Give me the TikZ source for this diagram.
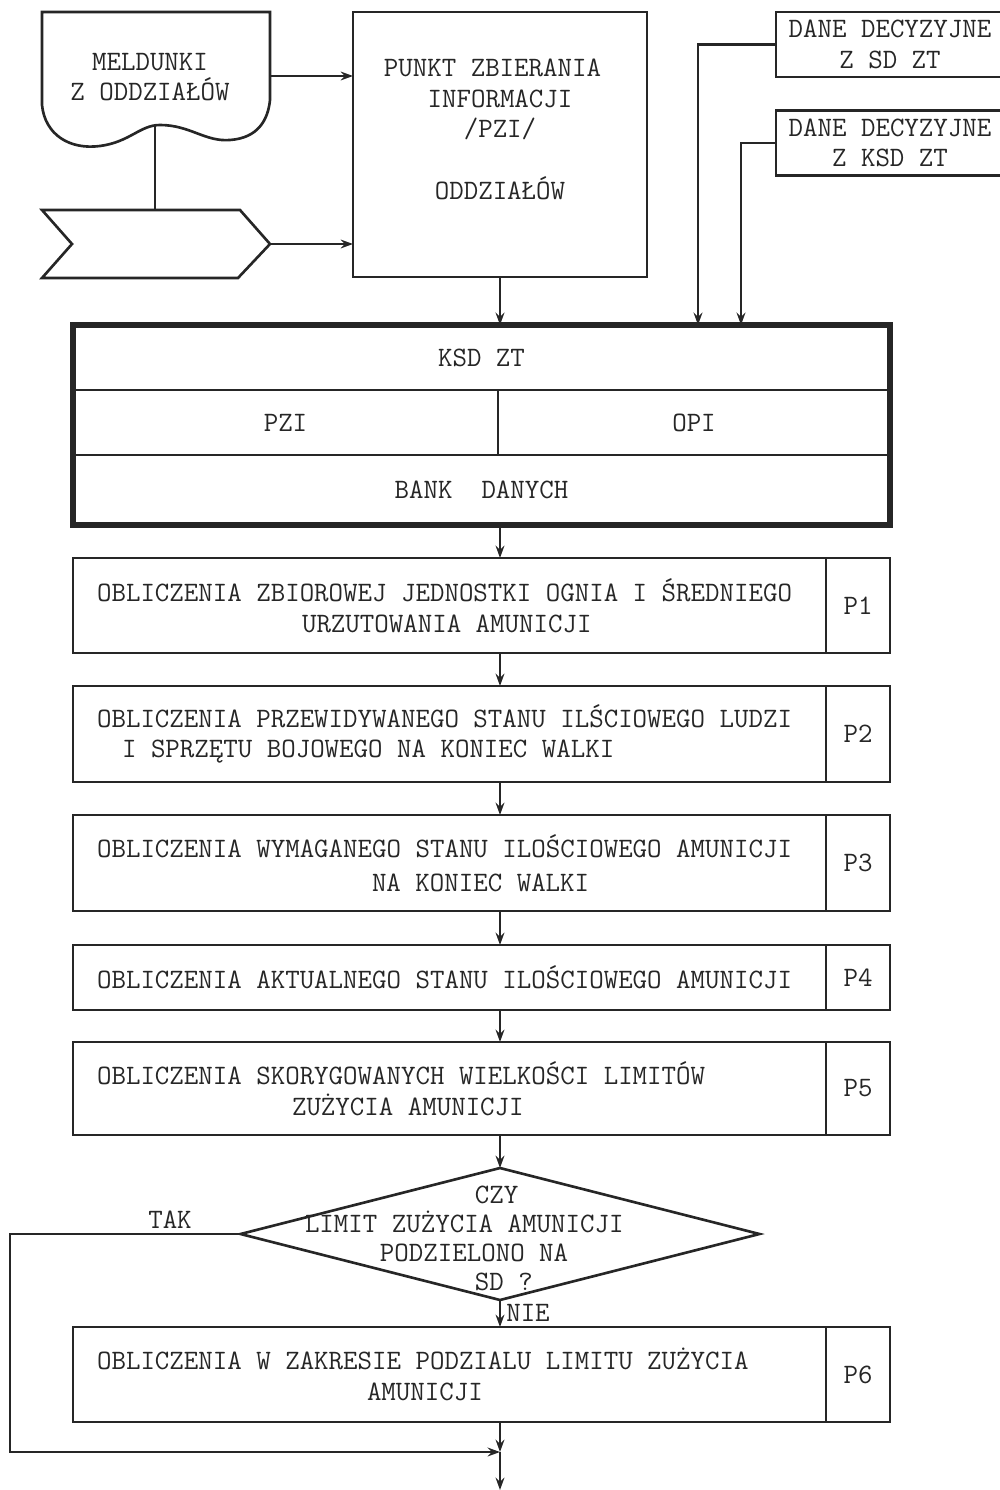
\documentclass[tikz,border=0pt]{standalone}
\usepackage{fontspec}
\usetikzlibrary{shapes.geometric,arrows.meta}
\newcommand\fixspace{\spaceskip=0pt \xspaceskip=0pt\relax}

\begin{document}
\begin{tikzpicture}[x=0.02cm, y=-0.02cm, line width=1.5pt, color=black!85,
  >={Stealth[length=7pt,width=5pt]},
  every node/.style={align=center, inner sep=0pt, outer sep=0pt,
    font=\ttfamily\fontsize{16}{17.5}\selectfont, execute at begin node={\fixspace}},
  box/.style={draw, minimum width=15.06cm, text width=14.1cm, align=left},
  pbox/.style={draw, minimum width=1.28cm}]
\useasboundingbox (0,0) rectangle (1000,1490);

% input side
\draw (42,12) -- (270,12) -- (270,100) .. controls (268,120) and (258,138) .. (230,140)
  .. controls (205,142) and (190,125) .. (160,125) .. controls (140,125) and (130,142) .. (100,146)
  .. controls (70,150) and (45,135) .. (42,105) -- cycle;
\node (mel) at (150,77) {MELDUNKI\\Z ODDZIAŁÓW};
\coordinate (melB) at (155,125);
\coordinate (melR) at (270,76);
\draw (42,210) -- (240,210) -- (270,244) -- (238,278) -- (42,278) -- (72,244) -- cycle;
\coordinate (chevT) at (155,210);
\coordinate (chevR) at (270,244);

\node[draw, minimum width=5.88cm, minimum height=5.3cm] (pzi) at (500,144.5)
  {PUNKT ZBIERANIA\hspace*{0.3cm}\\INFORMACJI\hspace*{0.3cm}\\/PZI/\hspace*{0.5cm}\\\mbox{}\\ODDZIAŁÓW\hspace*{0.4cm}\\\mbox{}};
\node[draw, minimum width=4.56cm, minimum height=1.3cm] (sd) at (890,44.5) {DANE DECYZYJNE\\Z SD ZT};
\node[draw, minimum width=4.56cm, minimum height=1.3cm] (ksdd) at (890,143) {DANE DECYZYJNE\\Z KSD ZT};

\draw (melB) -- (chevT);
\draw[->] (melR) -- (melR -| pzi.west);
\draw[->] (chevR) -- (chevR -| pzi.west);

% KSD ZT
\node[draw, minimum width=16.34cm, minimum height=1.3cm] (ksd) at (481.5,357.5) {KSD ZT};
\node[draw, minimum width=8.5cm, minimum height=1.3cm] (pzib) at (285.5,422.5) {PZI};
\node[draw, minimum width=7.84cm, minimum height=1.3cm] (opi) at (694,422.5) {OPI};
\node[draw, minimum width=16.34cm, minimum height=1.4cm] (bank) at (481.5,490) {BANK\ \ DANYCH};
\draw[line width=3pt] (ksd.north west) rectangle (bank.south east);

\coordinate (sdin) at (698,325);
\coordinate (ksdin) at (741,325);
\draw[->] (pzi.south) -- (pzi.south |- ksd.north);
\draw[->] (sd.west) -| (sdin);
\draw[->] (ksdd.west) -| (ksdin);

% calculations
\node[box, minimum height=1.9cm] (p1) at (449.5,605.5) {\mbox{OBLICZENIA ZBIOROWEJ JEDNOSTKI OGNIA I ŚREDNIEGO}\\\hspace*{4.1cm}URZUTOWANIA AMUNICJI};
\node[pbox, minimum height=1.9cm] (p1n) at (858,605.5) {P1};
\node[box, minimum height=1.92cm] (p2) at (449.5,734) {\mbox{OBLICZENIA PRZEWIDYWANEGO STANU ILŚCIOWEGO LUDZI}\\\hspace*{0.5cm}\mbox{I SPRZĘTU BOJOWEGO NA KONIEC WALKI}};
\node[pbox, minimum height=1.92cm] (p2n) at (858,734) {P2};
\node[box, minimum height=1.92cm] (p3) at (449.5,863) {\mbox{OBLICZENIA WYMAGANEGO STANU ILOŚCIOWEGO AMUNICJI}\\[2pt]\hspace*{5.5cm}NA KONIEC WALKI};
\node[pbox, minimum height=1.92cm] (p3n) at (858,863) {P3};
\node[box, minimum height=1.3cm] (p4) at (449.5,977.5) {\mbox{OBLICZENIA AKTUALNEGO STANU ILOŚCIOWEGO AMUNICJI}};
\node[pbox, minimum height=1.3cm] (p4n) at (858,977.5) {P4};
\node[box, minimum height=1.86cm] (p5) at (449.5,1088.5) {\mbox{OBLICZENIA SKORYGOWANYCH WIELKOŚCI LIMITÓW}\\\hspace*{3.9cm}ZUŻYCIA AMUNICJI};
\node[pbox, minimum height=1.86cm] (p5n) at (858,1088.5) {P5};

\draw[->] (bank.south -| pzi.south) -- (p1.north -| pzi.south);
\draw[->] (p1.south -| pzi.south) -- (p2.north -| pzi.south);
\draw[->] (p2.south -| pzi.south) -- (p3.north -| pzi.south);
\draw[->] (p3.south -| pzi.south) -- (p4.north -| pzi.south);
\draw[->] (p4.south -| pzi.south) -- (p5.north -| pzi.south);

% decision
\node[draw, diamond, minimum width=10.38cm, minimum height=2.64cm] (dec) at (500,1234) {};
\node[align=left, anchor=west, font=\ttfamily\fontsize{16}{16.5}\selectfont] (dectxt) at (305,1238)
  {\hspace*{3.4cm}CZY\\LIMIT ZUŻYCIA AMUNICJI\\\hspace*{1.5cm}PODZIELONO NA\\\hspace*{3.4cm}SD ?};
\node (tak) at (170,1220) {TAK};
\node (nie) at (528,1313) {NIE};
\node[box, minimum height=1.9cm] (p6) at (449.5,1374.5) {\mbox{OBLICZENIA W ZAKRESIE PODZIALU LIMITU ZUŻYCIA}\\\hspace*{5.4cm}AMUNICJI};
\node[pbox, minimum height=1.9cm] (p6n) at (858,1374.5) {P6};

\coordinate (tleft) at (10,1234);
\coordinate (join) at (500,1452);
\coordinate (out) at (500,1490);
\draw[->] (p5.south -| dec.north) -- (dec.north);
\draw[->] (dec.south) -- (p6.north -| dec.south);
\draw[->] (dec.west) -- (tleft) |- (join);
\draw[->] (p6.south -| join) -- (join);
\draw[->] (join) -- (out);
\end{tikzpicture}
\end{document}
